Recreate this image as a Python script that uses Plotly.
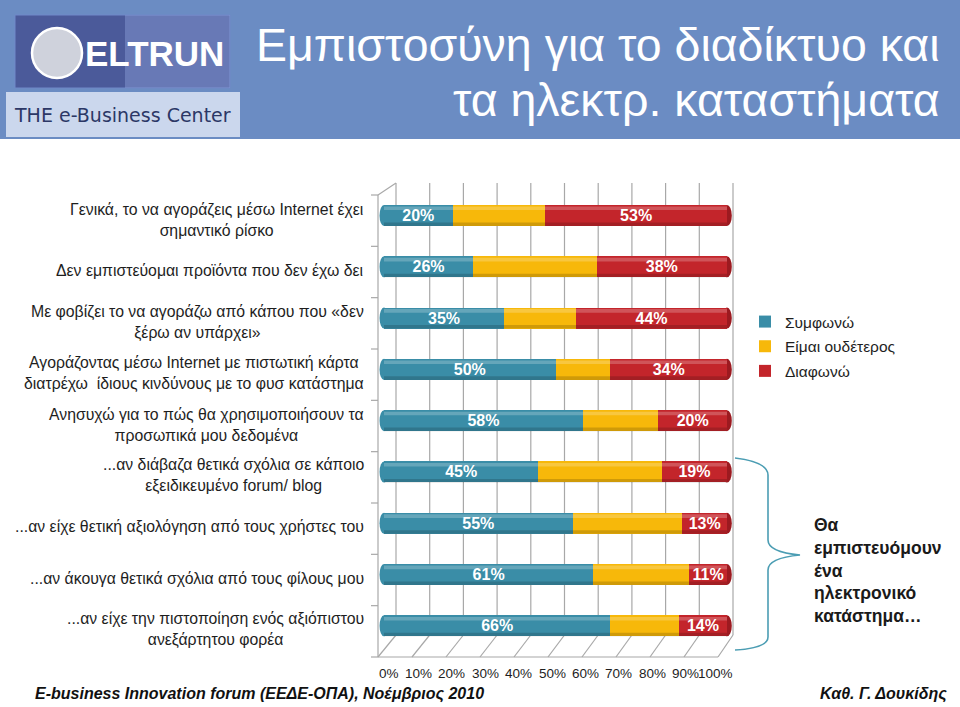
import plotly.graph_objects as go

W, H = 960, 707

categories = [
    "Γενικά, το να αγοράζεις μέσω Internet έχει<br>σημαντικό ρίσκο",
    "Δεν εμπιστεύομαι προϊόντα που δεν έχω δει",
    "Με φοβίζει το να αγοράζω από κάπου που «δεν<br>ξέρω αν υπάρχει»",
    "Αγοράζοντας μέσω Internet με πιστωτική κάρτα<br>διατρέχω  ίδιους κινδύνους με το φυσ κατάστημα",
    "Ανησυχώ για το πώς θα χρησιμοποιήσουν τα<br>προσωπικά μου δεδομένα",
    "...αν διάβαζα θετικά σχόλια σε κάποιο<br>εξειδικευμένο forum/ blog",
    "...αν είχε θετική αξιολόγηση από τους χρήστες του",
    "...αν άκουγα θετικά σχόλια από τους φίλους μου",
    "...αν είχε την πιστοποίηση ενός αξιόπιστου<br>ανεξάρτητου φορέα",
]
agree = [20, 26, 35, 50, 58, 45, 55, 61, 66]
neutral = [27, 36, 21, 16, 22, 36, 32, 28, 20]
disagree = [53, 38, 44, 34, 20, 19, 13, 11, 14]
series_names = ["Συμφωνώ", "Είμαι ουδέτερος", "Διαφωνώ"]
series_colors = ["#3a8da7", "#f7b80a", "#c3252b"]
cap_colors = ["#2f7a91", "#e0a400", "#9c1a20"]
tick_values = [0, 10, 20, 30, 40, 50, 60, 70, 80, 90, 100]
tick_labels = ["0%", "10%", "20%", "30%", "40%", "50%", "60%", "70%", "80%", "90%", "100%"]

title_lines = ["Εμπιστοσύνη για το διαδίκτυο και", "τα ηλεκτρ. καταστήματα"]
side_note = "Θα<br>εμπιστευόμουν<br>ένα<br>ηλεκτρονικό<br>κατάστημα…"
footer_left = "E-business Innovation forum (ΕΕΔΕ-ΟΠΑ), Νοέμβριος 2010"
footer_right = "Καθ. Γ. Δουκίδης"

FONT = "Liberation Sans, Arial, sans-serif"

# geometry (pixels)
X0_PX, PX_PER = 384.0, 3.43         # bar scale
XR = [-2, 104]
x_dom = [(X0_PX + XR[0] * PX_PER) / W, (X0_PX + XR[1] * PX_PER) / W]
Y_TOP, Y_BOT = 189.85, 651.5
y_dom = [1 - Y_BOT / H, 1 - Y_TOP / H]
BAR_W = 0.41


def px(xp):
    return xp / W


def py(yp):
    return 1 - yp / H


def dx(xp):  # pixel -> data x
    return (xp - X0_PX) / PX_PER


fig = go.Figure()
vals = [agree, neutral, disagree]
for i, (name, col, v) in enumerate(zip(series_names, series_colors, vals)):
    fig.add_trace(go.Bar(
        y=categories, x=v, name=name, orientation="h",
        marker=dict(color=col, line=dict(width=0)),
        width=BAR_W,
        text=[f"{a}%" for a in v] if i != 1 else None,
        textposition="inside" if i != 1 else "none",
        insidetextanchor="middle",
        textfont=dict(color="white", size=16, family=FONT, weight="bold"),
        constraintext="none",
        legendgroup=name,
        hoverinfo="skip",
    ))

shapes = []
grid_col = "#a8a8a8"
BACK_TOP, BACK_BOT, FRONT_BOT = 183, 635, 657
for v in tick_values:
    xb = dx(396 + 3.37 * v)
    shapes.append(dict(type="line", xref="x", yref="paper", x0=xb, x1=xb,
                       y0=py(BACK_TOP), y1=py(BACK_BOT), line=dict(color=grid_col, width=1.2), layer="below"))
    shapes.append(dict(type="line", xref="paper", yref="paper", x0=px(396 + 3.37 * v), x1=px(378 + 3.40 * v),
                       y0=py(BACK_BOT), y1=py(FRONT_BOT), line=dict(color=grid_col, width=1.2), layer="below"))
# front floor edge
shapes.append(dict(type="line", xref="paper", yref="paper", x0=px(378), x1=px(378 + 340),
                   y0=py(FRONT_BOT), y1=py(FRONT_BOT), line=dict(color=grid_col, width=1.2), layer="below"))
# left wall
shapes.append(dict(type="line", xref="paper", yref="paper", x0=px(378), x1=px(378),
                   y0=py(195), y1=py(FRONT_BOT), line=dict(color=grid_col, width=1.2), layer="below"))
shapes.append(dict(type="line", xref="paper", yref="paper", x0=px(378), x1=px(396),
                   y0=py(195), y1=py(BACK_TOP), line=dict(color=grid_col, width=1.2), layer="below"))
step = (FRONT_BOT - 195) / len(categories)
for k in range(len(categories) + 1):
    yy = 195 + step * k
    shapes.append(dict(type="line", xref="paper", yref="paper", x0=px(371), x1=px(378),
                       y0=py(yy), y1=py(yy), line=dict(color=grid_col, width=1.2), layer="below"))

# cylinder look: rounded ends + highlight / shadow bands (derived from the data)
hb = BAR_W / 2
for k in range(len(categories)):
    total = agree[k] + neutral[k] + disagree[k]
    shapes.append(dict(type="circle", xref="x", yref="y", x0=-1.3, x1=1.3, y0=k - hb, y1=k + hb,
                       fillcolor=series_colors[0], line=dict(width=0), layer="below"))
    shapes.append(dict(type="circle", xref="x", yref="y", x0=total - 1.4, x1=total + 1.4, y0=k - hb, y1=k + hb,
                       fillcolor=cap_colors[2], line=dict(width=0), layer="below"))
    shapes.append(dict(type="rect", xref="x", yref="y", x0=0, x1=total, y0=k - hb + 0.03, y1=k - hb + 0.1,
                       fillcolor="white", opacity=0.22, line=dict(width=0), layer="above"))
    shapes.append(dict(type="rect", xref="x", yref="y", x0=0, x1=total, y0=k + hb - 0.07, y1=k + hb,
                       fillcolor="black", opacity=0.16, line=dict(width=0), layer="above"))

# header band
shapes.append(dict(type="rect", xref="paper", yref="paper", x0=0, x1=1, y0=py(139), y1=1,
                   fillcolor="#6b8cc3", line=dict(width=0), layer="below"))
# logo
shapes.append(dict(type="rect", xref="paper", yref="paper", x0=px(6), x1=px(240), y0=py(137), y1=py(92),
                   fillcolor="#e4eaf7", opacity=0.8, line=dict(width=0), layer="below"))
shapes.append(dict(type="rect", xref="paper", yref="paper", x0=px(15), x1=px(230), y0=py(88), y1=py(15),
                   fillcolor="#4b5a9a", line=dict(color="#7088c8", width=1), layer="below"))
shapes.append(dict(type="rect", xref="paper", yref="paper", x0=px(125), x1=px(230), y0=py(88), y1=py(15),
                   fillcolor="#93a8e2", opacity=0.4, line=dict(width=0), layer="below"))
shapes.append(dict(type="circle", xref="paper", yref="paper", x0=px(32), x1=px(82), y0=py(78), y1=py(28),
                   fillcolor="#cfd2dc", line=dict(color="white", width=2.5), layer="below"))

# brace
pts = [(735, 458), (768, 462), (768, 475), (768, 540), (768, 552), (782, 555), (800, 555),
       (782, 555), (768, 558), (768, 570), (768, 637), (768, 648), (735, 650)]
P = [(px(a), py(b)) for a, b in pts]
path = (f"M {P[0][0]},{P[0][1]} Q {P[1][0]},{P[1][1]} {P[2][0]},{P[2][1]} L {P[3][0]},{P[3][1]} "
        f"Q {P[4][0]},{P[4][1]} {P[6][0]},{P[6][1]} Q {P[8][0]},{P[8][1]} {P[9][0]},{P[9][1]} "
        f"L {P[10][0]},{P[10][1]} Q {P[11][0]},{P[11][1]} {P[12][0]},{P[12][1]}")
shapes.append(dict(type="path", xref="paper", yref="paper", path=path,
                   line=dict(color="#4b9db3", width=1.6)))

annotations = []
for c in categories:
    annotations.append(dict(xref="paper", yref="y", x=px(366), y=c, text=c, showarrow=False,
                            xanchor="right", yanchor="middle", align="center", yshift=-4,
                            font=dict(family=FONT, size=15.8, color="#1e1e1e")))
for v, lab in zip(tick_values, tick_labels):
    annotations.append(dict(xref="x", yref="paper", x=dx(400.5 + 3.34 * v), y=py(673), text=lab,
                            showarrow=False, xanchor="right", yanchor="middle",
                            font=dict(family=FONT, size=13.5, color="#1e1e1e")))
annotations.append(dict(xref="paper", yref="paper", x=px(942), y=py(45), text=title_lines[0],
                        showarrow=False, xanchor="right", yanchor="middle",
                        font=dict(family=FONT, size=46.5, color="white")))
annotations.append(dict(xref="paper", yref="paper", x=px(942), y=py(100), text=title_lines[1],
                        showarrow=False, xanchor="right", yanchor="middle",
                        font=dict(family=FONT, size=46.5, color="white")))
annotations.append(dict(xref="paper", yref="paper", x=px(154), y=py(53), text="<b>ELTRUN</b>",
                        showarrow=False, xanchor="center", yanchor="middle",
                        font=dict(family=FONT, size=35, color="white")))
annotations.append(dict(xref="paper", yref="paper", x=px(122), y=py(115), text="THE e-Business Center",
                        showarrow=False, xanchor="center", yanchor="middle",
                        font=dict(family="DejaVu Sans, sans-serif", size=19, color="#2c3766")))
annotations.append(dict(xref="paper", yref="paper", x=px(812), y=py(570), text=f"<b>{side_note}</b>",
                        showarrow=False, xanchor="left", yanchor="middle", align="left",
                        font=dict(family=FONT, size=17.5, color="#1a1a1a")))
annotations.append(dict(xref="paper", yref="paper", x=px(33), y=py(694), text=f"<b><i>{footer_left}</i></b>",
                        showarrow=False, xanchor="left", yanchor="middle",
                        font=dict(family=FONT, size=16, color="#111")))
annotations.append(dict(xref="paper", yref="paper", x=px(949), y=py(694), text=f"<b><i>{footer_right}</i></b>",
                        showarrow=False, xanchor="right", yanchor="middle",
                        font=dict(family=FONT, size=16, color="#111")))

fig.update_layout(
    width=W, height=H,
    margin=dict(l=0, r=0, t=0, b=0),
    paper_bgcolor="white", plot_bgcolor="rgba(0,0,0,0)",
    barmode="stack", bargap=0.59,
    xaxis=dict(domain=x_dom, range=XR, showgrid=False, zeroline=False, showticklabels=False,
               showline=False, fixedrange=True),
    yaxis=dict(domain=y_dom, type="category", categoryorder="array", categoryarray=categories,
               range=[len(categories) - 0.5, -0.5], showgrid=False, zeroline=False,
               showticklabels=False, showline=False, fixedrange=True),
    showlegend=True,
    legend=dict(x=px(745), y=py(305), xanchor="left", yanchor="top", bgcolor="rgba(0,0,0,0)",
                font=dict(family=FONT, size=15.5, color="#1e1e1e"), traceorder="grouped",
                tracegroupgap=1.5, itemwidth=30),
    shapes=shapes, annotations=annotations,
    font=dict(family=FONT),
)

fig.write_html("out.html", config={"displayModeBar": False},
               post_script="document.body.style.margin='0';")
